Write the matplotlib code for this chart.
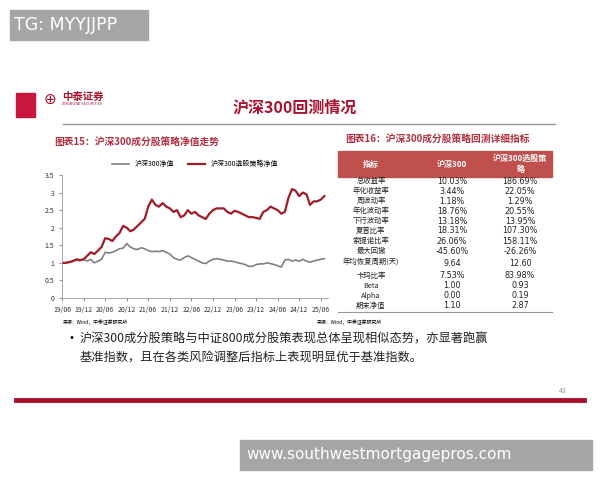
import matplotlib
matplotlib.use("Agg")
import matplotlib.pyplot as plt
from matplotlib.patches import Rectangle
import numpy as np

plt.rcParams['font.family'] = ['Noto Sans CJK SC', 'DejaVu Sans']

months = list(range(74))
strategy = [1.0,1.0,1.02,1.05,1.1,1.08,1.1,1.2,1.3,1.25,1.35,1.45,1.7,1.68,1.62,1.75,1.85,2.05,2.0,1.9,
            1.95,2.05,2.15,2.25,2.6,2.8,2.65,2.6,2.7,2.6,2.55,2.45,2.5,2.3,2.35,2.5,2.4,2.45,2.35,2.3,
            2.25,2.4,2.5,2.55,2.55,2.55,2.45,2.4,2.48,2.45,2.4,2.35,2.3,2.3,2.28,2.25,2.45,2.5,2.6,2.55,
            2.5,2.4,2.45,2.85,3.1,3.05,2.9,3.0,2.95,2.65,2.75,2.75,2.8,2.9]
hs300 = [1.0,1.0,1.02,1.05,1.08,1.06,1.1,1.05,1.1,1.0,1.05,1.1,1.3,1.28,1.3,1.35,1.4,1.42,1.55,1.45,
         1.4,1.38,1.43,1.4,1.35,1.32,1.33,1.32,1.35,1.3,1.25,1.15,1.1,1.08,1.15,1.2,1.15,1.1,1.05,1.0,
         0.98,1.05,1.1,1.12,1.1,1.08,1.05,1.05,1.03,1.0,0.98,0.95,0.9,0.9,0.95,0.97,0.97,1.0,0.98,0.95,
         0.92,0.88,1.08,1.1,1.05,1.08,1.05,1.1,1.05,1.02,1.05,1.08,1.1,1.12]
tick_labels = ['19/06','19/12','20/06','20/12','21/06','21/12','22/06','22/12','23/06','23/12','24/06','24/12','25/06']
series_names = ['沪深300净值', '沪深300选股策略净值']

metrics = ['总收益率','年化收益率','周波动率','年化波动率','下行波动率','夏普比率','索提诺比率','最大回撤',
           '年均恢复周期(天)','卡玛比率','Beta','Alpha','期末净值']
col_hs = ['10.03%','3.44%','1.18%','18.76%','13.18%','18.31%','26.06%','-45.60%','9.64','7.53%','1.00','0.00','1.10']
col_st = ['186.69%','22.05%','1.29%','20.55%','13.95%','107.30%','158.11%','-26.26%','12.60','83.98%','0.93','0.19','2.87']
headers = ['指标','沪深300','沪深300选股策\n略']

W, H = 600, 480
fig = plt.figure(figsize=(6, 4.8), dpi=100)
fig.patch.set_facecolor('white')

def fy(y): return 1 - y / H
def fx(x): return x / W
def txt(x, y, s, **kw):
    fig.text(fx(x), fy(y), s, **kw)
def rect(x0, y0, x1, y1, **kw):
    fig.patches.append(Rectangle((fx(x0), fy(y1)), fx(x1)-fx(x0), fy(y0)-fy(y1),
                                 transform=fig.transFigure, **kw))
def hline(x0, x1, y, **kw):
    fig.add_artist(plt.Line2D([fx(x0), fx(x1)], [fy(y), fy(y)], transform=fig.transFigure, **kw))

RED = '#a8122e'
# watermarks
rect(10, 10, 148, 40, color='#a6a6a6')
txt(14, 25, 'TG: MYYJJPP', color='white', fontsize=12.5, va='center', family=['DejaVu Sans'])
rect(240, 440, 592, 470, color='#a6a6a6')
txt(246, 455, 'www.southwestmortgagepros.com', color='white', fontsize=11, va='center', family=['DejaVu Sans'])

# header
rect(16, 93, 35, 117, color='#c8163c')
txt(44, 99, '⊕', color=RED, fontsize=11, va='center', family=['DejaVu Sans'])
txt(62, 97, '中泰证券', color=RED, fontsize=7.5, va='center', weight='bold')
txt(62, 104, 'ZHONGTAI SECURITIES', color=RED, fontsize=2.5, va='center', family=['DejaVu Sans'])
txt(295, 107, '沪深300回测情况', color=RED, fontsize=11.5, ha='center', va='center', weight='bold')
hline(63, 555, 124, color='#999999', lw=1)

# bottom
hline(16, 584, 400, color=RED, lw=3.5)
txt(563, 391, '43', color='#999999', fontsize=5, ha='center', va='center')
txt(63, 322, '来源：Wind，中泰证券研究所', fontsize=3.5, va='center')
txt(317, 322, '来源：Wind，中泰证券研究所', fontsize=3.5, va='center')
txt(64, 339, '•', fontsize=10, va='center')
txt(80, 339, '沪深300成分股策略与中证800成分股策表现总体呈现相似态势，亦显著跑赢', fontsize=8.8, va='center', color='#222222')
txt(80, 358, '基准指数，且在各类风险调整后指标上表现明显优于基准指数。', fontsize=8.8, va='center', color='#222222')

# chart
txt(54, 143, '图表15：沪深300成分股策略净值走势', color='#b03040', fontsize=7, va='center', style='italic', weight='bold')
ax = fig.add_axes([fx(62), fy(298), fx(328)-fx(62), fy(175)-fy(298)])
ax.plot(months, hs300, color='#808080', lw=1.2, label=series_names[0])
ax.plot(months, strategy, color='#a01c28', lw=1.6, label=series_names[1])
ax.set_ylim(0, 3.5)
ax.set_xlim(0, 74)
ax.set_yticks(np.arange(0, 3.51, 0.5))
ax.set_yticklabels(['0','0.5','1','1.5','2','2.5','3','3.5'])
ax.set_xticks(range(0, 73, 6))
ax.set_xticklabels(tick_labels)
ax.tick_params(labelsize=5, length=2, color='#999999', labelcolor='#333333')
for s in ['top', 'right']:
    ax.spines[s].set_visible(False)
for s in ['left', 'bottom']:
    ax.spines[s].set_color('#999999')
    ax.spines[s].set_linewidth(0.6)
ax.legend(loc='upper center', bbox_to_anchor=(0.5, 1.17), ncol=2, frameon=False, fontsize=5, handlelength=2.5)

# table
txt(345, 140, '图表16：沪深300成分股策略回测详细指标', color='#b03040', fontsize=7, va='center', style='italic', weight='bold')
rect(338, 151, 552, 177, color='#c0504d')
cx = [371, 452, 520]
for c, h in zip(cx, headers):
    txt(c, 164, h, color='white', fontsize=5.8, ha='center', va='center', weight='bold', linespacing=1.3)
ys = [181, 191, 201, 211, 221, 231, 241, 251, 263, 276, 286, 296, 306]
for y, m, a, b in zip(ys, metrics, col_hs, col_st):
    txt(cx[0], y, m, fontsize=5.3, ha='center', va='center', color='#222222')
    txt(cx[1], y, a, fontsize=5.8, ha='center', va='center', color='#222222', family=['DejaVu Sans'])
    txt(cx[2], y, b, fontsize=5.8, ha='center', va='center', color='#222222', family=['DejaVu Sans'])
hline(338, 552, 312, color='#999999', lw=0.8)

fig.savefig('out.png', dpi=100)
